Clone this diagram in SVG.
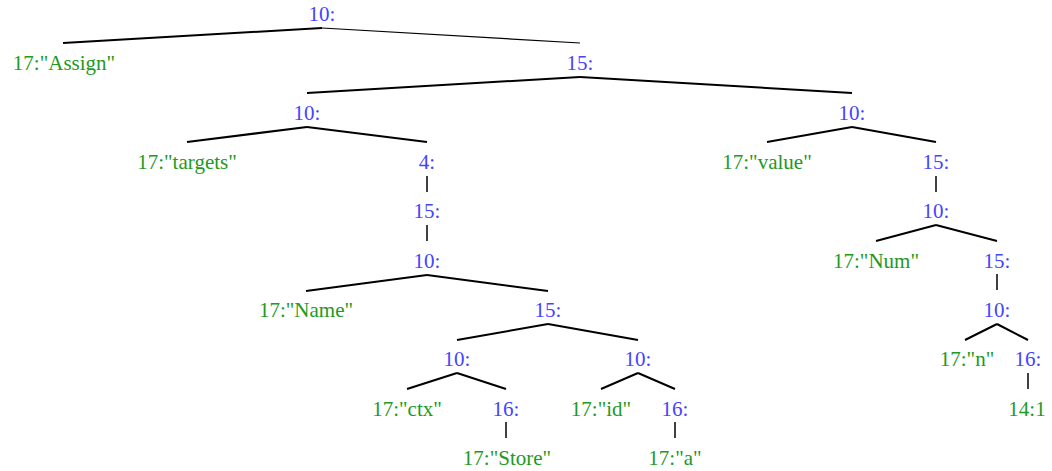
<svg xmlns="http://www.w3.org/2000/svg" width="1052" height="471" viewBox="0 0 1052 471">
<style>
text{font-family:'Liberation Serif','Times New Roman','DejaVu Serif',serif;font-size:21px;text-anchor:middle}
.i{fill:#4444ff}
.l{fill:#229922}
.e{stroke:#000;stroke-width:2;fill:none}
.t{stroke:#000;stroke-width:1.2;fill:none}
.v{stroke:#000;stroke-width:1.5;fill:none}
</style>
<rect width="1052" height="471" fill="#fff"/>
<g id="connectors">
<path class="e" d="M322,28 L63,43"/>
<path class="t" d="M322,28 L580,43"/>
<path class="e" d="M580,77 L307,93"/>
<path class="e" d="M580,77 L852,93"/>
<path class="e" d="M307,127 L187,142"/>
<path class="e" d="M307,127 L427,142"/>
<path class="v" d="M427,176 L427,192"/>
<path class="v" d="M427,225 L427,241"/>
<path class="e" d="M427,275 L306,291"/>
<path class="e" d="M427,275 L548,291"/>
<path class="e" d="M548,324 L457,340"/>
<path class="e" d="M548,324 L638,340"/>
<path class="e" d="M457,373 L407,389"/>
<path class="e" d="M457,373 L506,389"/>
<path class="e" d="M638,373 L601,389"/>
<path class="e" d="M638,373 L675,389"/>
<path class="v" d="M506,422 L506,438"/>
<path class="v" d="M675,422 L675,438"/>
<path class="e" d="M852,127 L767,142"/>
<path class="e" d="M852,127 L936,142"/>
<path class="v" d="M936,176 L936,192"/>
<path class="e" d="M936,225 L876,241"/>
<path class="e" d="M936,225 L997,241"/>
<path class="v" d="M997,274 L997,290"/>
<path class="e" d="M997,324 L965,340"/>
<path class="e" d="M997,324 L1028,340"/>
<path class="v" d="M1028,373 L1028,389"/>
</g>
<g font-family="Liberation Serif, serif">
<g id="n0"><text class="i" x="322" y="21">10:</text></g>
<g id="n1"><text class="l" x="64" y="70">17:"Assign"</text></g>
<g id="n2"><text class="i" x="580" y="70">15:</text></g>
<g id="n3"><text class="i" x="307" y="119.5">10:</text></g>
<g id="n4"><text class="i" x="852" y="119.5">10:</text></g>
<g id="n5"><text class="l" x="187" y="169">17:"targets"</text></g>
<g id="n6"><text class="i" x="427" y="169">4:</text></g>
<g id="n7"><text class="i" x="427" y="218">15:</text></g>
<g id="n8"><text class="i" x="427" y="267.5">10:</text></g>
<g id="n9"><text class="l" x="306" y="317">17:"Name"</text></g>
<g id="n10"><text class="i" x="548" y="317">15:</text></g>
<g id="n11"><text class="i" x="457" y="366">10:</text></g>
<g id="n12"><text class="i" x="638" y="366">10:</text></g>
<g id="n13"><text class="l" x="407" y="415.5">17:"ctx"</text></g>
<g id="n14"><text class="i" x="506" y="415.5">16:</text></g>
<g id="n15"><text class="l" x="601" y="415.5">17:"id"</text></g>
<g id="n16"><text class="i" x="675" y="415.5">16:</text></g>
<g id="n17"><text class="l" x="507" y="465">17:"Store"</text></g>
<g id="n18"><text class="l" x="675" y="465">17:"a"</text></g>
<g id="n19"><text class="l" x="767" y="169">17:"value"</text></g>
<g id="n20"><text class="i" x="936" y="169">15:</text></g>
<g id="n21"><text class="i" x="936" y="218">10:</text></g>
<g id="n22"><text class="l" x="876" y="267.5">17:"Num"</text></g>
<g id="n23"><text class="i" x="997" y="267.5">15:</text></g>
<g id="n24"><text class="i" x="997" y="317">10:</text></g>
<g id="n25"><text class="l" x="967" y="366">17:"n"</text></g>
<g id="n26"><text class="i" x="1028" y="366">16:</text></g>
<g id="n27"><text class="l" x="1027" y="415.5">14:1</text></g>
</g>
</svg>
